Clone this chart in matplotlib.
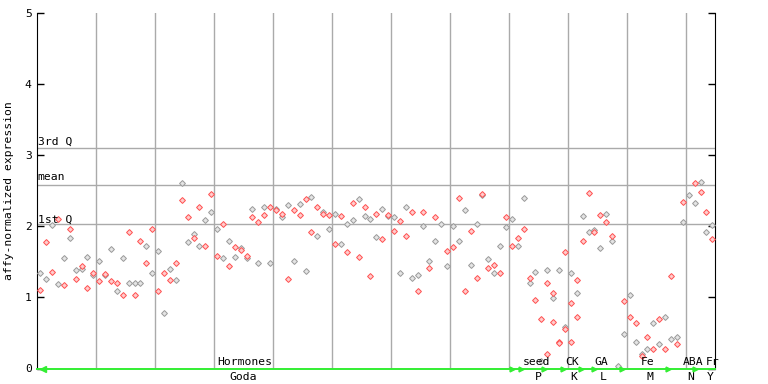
import numpy as np
import matplotlib
matplotlib.use("Agg")
import matplotlib.pyplot as plt

nan = np.nan

# values per sample position (two replicates each)
upper = [1.34, 1.78, 2.02, 2.10, 1.55, 1.97, 1.38, 1.44, 1.57, 1.34,
         1.51, 1.33, 1.68, 1.21, 1.55, 1.92, 1.21, 1.79, 1.73, 1.96,
         1.65, 1.35, 1.40, 1.48, 2.61, 2.13, 1.90, 2.28, 2.09, 2.45,
         1.96, 2.04, 1.80, 1.71, 1.69, 1.59, 2.25, 2.06, 2.28, 2.28,
         2.25, 2.18, 2.30, 2.23, 2.31, 2.38, 2.42, 2.28, 2.21, 2.16,
         2.17, 2.14, 2.03, 2.33, 2.38, 2.27, 2.10, 2.18, 2.25, 2.16,
         2.13, 2.07, 2.27, 2.20, 1.31, 2.21, 1.52, 2.13, 2.03, 1.66,
         2.00, 2.40, 2.23, 1.93, 2.04, 2.46, 1.54, 1.45, 1.73, 2.13,
         2.11, 1.83, 2.40, 1.28, 1.36, 0.69, 1.38, 1.06, 1.38, 1.64,
         1.35, 1.24, 2.14, 2.47, 1.95, 2.16, 2.17, 1.87, 0.03, 0.95,
         1.03, 0.64, 0.20, 0.44, 0.64, 0.69, 0.72, 1.30, 0.45, 2.35,
         2.44, 2.61, 2.63, 2.21, 2.02]
lower = [1.10, 1.26, 1.36, 1.19, 1.17, 1.83, 1.26, 1.40, 1.14, 1.31,
         1.23, 1.32, 1.23, 1.09, 1.04, 1.21, 1.04, 1.20, 1.49, 1.34,
         1.09, 0.78, 1.24, 1.24, 2.37, 1.78, 1.83, 1.72, 1.72, 2.21,
         1.59, 1.55, 1.44, 1.57, 1.67, 1.55, 2.13, 1.49, 2.16, 1.49,
         2.23, 2.13, 1.26, 1.52, 2.16, 1.37, 1.92, 1.86, 2.17, 1.97,
         1.75, 1.75, 1.64, 2.09, 1.57, 2.14, 1.30, 1.85, 1.82, 2.14,
         1.93, 1.34, 1.87, 1.28, 1.09, 2.00, 1.41, 1.80, nan, 1.44,
         1.71, 1.79, 1.09, 1.45, 1.28, 2.44, 1.41, 1.34, 1.34, 1.99,
         1.72, 1.72, 1.97, 1.21, 0.96, 0.10, 1.20, 0.99, 0.38, 0.58,
         0.92, 1.06, 1.80, 1.92, 1.92, 1.69, 2.06, 1.79, nan, 0.48,
         0.72, 0.37, 0.17, 0.28, 0.27, 0.35, 0.27, 0.41, 0.35, 2.06,
         nan, 2.33, 2.49, 1.92, 1.82]
extra_pos = [86, 87, 88, 89, 90, 91]
extra_val = [0.20, 0.65, 0.36, 0.56, 0.37, 0.72]

q3_value, mean_value, q1_value = 3.10, 2.58, 2.03

top_labels = ["Hormones", "seed", "CK", "GA", "Fe", "ABA", "Fr"]
top_centers = [34.7, 84.2, 90.2, 95.1, 103.0, 110.8, 114.0]
bottom_labels = ["Goda", "P", "K", "L", "M", "N", "Y"]
bottom_centers = [34.4, 84.4, 90.5, 95.4, 103.4, 110.3, 113.6]
arrow_marks = [80.0, 81.5, 85.5, 88.7, 91.7, 94.0, 98.7, 106.5, 111.0]

n = len(upper)
x = np.arange(n)
up = np.array(upper, dtype=float)
lo = np.array(lower, dtype=float)

# split into gray / red series (alternating which replicate is red)
even = (x % 2 == 0)
red_y = np.where(even, lo, up)
gray_y = np.where(even, up, lo)

plt.rcParams["font.family"] = ["DejaVu Sans Mono", "DejaVu Sans"]
fig = plt.figure(figsize=(7.68, 3.84), dpi=100)
ax = fig.add_axes([37.3 / 768, 15.5 / 384, 678 / 768, 355.2 / 384])
ax.set_xlim(-0.5, n - 0.5)
ax.set_ylim(0, 5)

grid_c = "#aaaaaa"
for g in np.arange(9.5, n - 1, 10):
    ax.axvline(g, color=grid_c, lw=1.0, zorder=1)
for v in (q3_value, mean_value, q1_value):
    ax.axhline(v, color=grid_c, lw=1.0, zorder=1)

mk = dict(marker="D", ms=3.0, mew=0.7, ls="none", zorder=3)
ax.plot(x, gray_y, mfc="#e4e4e4", mec="#9a9a9a", **mk)
ax.plot(x, red_y, mfc="#ffcccc", mec="#ff5050", **mk)
ax.plot(extra_pos, extra_val, mfc="#ffcccc", mec="#ff5050", **mk)

fs = 8.2
ax.text(-0.45, 3.19, "3rd Q", fontsize=fs, va="center", ha="left", zorder=4)
ax.text(-0.45, 2.69, "mean", fontsize=fs, va="center", ha="left", zorder=4)
ax.text(-0.45, 2.10, "1st Q", fontsize=fs, va="center", ha="left", zorder=4)

for lab, c in zip(top_labels, top_centers):
    ax.text(c, 0.085, lab, fontsize=fs, ha="center", va="center", zorder=5, clip_on=False)
for lab, c in zip(bottom_labels, bottom_centers):
    ax.text(c, -0.115, lab, fontsize=fs, ha="center", va="center", clip_on=False)

green = "#33ee33"
ax.plot([-0.5, n - 0.5], [0, 0], color=green, lw=1.4, clip_on=False, zorder=4)
ax.plot([0.4], [0], marker="<", color=green, ms=4, clip_on=False, zorder=4)
ax.plot(arrow_marks, np.zeros(len(arrow_marks)), ls="none", marker=">", color=green,
        ms=3.5, clip_on=False, zorder=4)

ax.spines["top"].set_visible(False)
ax.spines["bottom"].set_visible(False)
ax.spines["left"].set_color("black")
ax.spines["right"].set_color("black")
ax.set_xticks([])
ax.set_yticks([0, 1, 2, 3, 4, 5])
ax.tick_params(axis="y", direction="in", length=5, width=1, labelsize=fs,
               right=True, left=True, pad=4)
ax.set_ylabel("affy-normalized expression", fontsize=fs, labelpad=8)

fig.savefig("out.png", dpi=100)
